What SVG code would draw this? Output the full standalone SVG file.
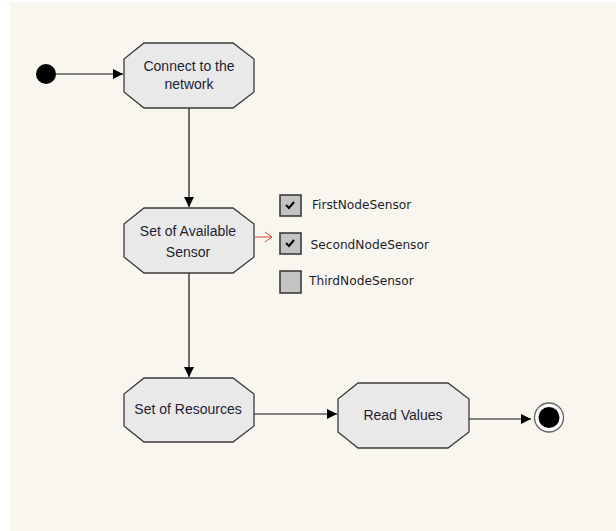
<svg xmlns="http://www.w3.org/2000/svg" width="616" height="531" viewBox="0 0 616 531">
<defs>
<style>
.bg{fill:#f9f6f0}
.node{fill:#e9e9e9;stroke:#3a3a3a;stroke-width:1.3}
.lbl{font-family:"Liberation Sans",Arial,sans-serif;font-size:14px;fill:#1e1e32;text-anchor:middle}
.chk{font-family:"DejaVu Sans",Tahoma,sans-serif;font-size:12.2px;fill:#1e1e28}
.edge{stroke:#111;stroke-width:1.2;fill:none}
.box{fill:#c3c3c3;stroke:#3c3c3c;stroke-width:1.6}
.tick{fill:none;stroke:#000;stroke-width:2}
</style>
<marker id="arr" markerWidth="11" markerHeight="10" refX="10" refY="5" orient="auto" markerUnits="userSpaceOnUse">
<path d="M0,0 L10,5 L0,10 Z" fill="#000"/>
</marker>
<marker id="open" markerWidth="9" markerHeight="12" refX="8" refY="6" orient="auto" markerUnits="userSpaceOnUse">
<path d="M1,1 L8,6 L1,11" fill="none" stroke="#e04040" stroke-width="1"/>
</marker>
</defs>
<rect width="616" height="531" fill="#ffffff"/>
<rect class="bg" x="10" y="2" width="606" height="529"/>

<g id="connectors">
<line class="edge" x1="56" y1="74" x2="123" y2="74" marker-end="url(#arr)"/>
<line class="edge" x1="189" y1="108" x2="189" y2="207" marker-end="url(#arr)"/>
<line class="edge" x1="189" y1="273" x2="189" y2="377" marker-end="url(#arr)"/>
<line class="edge" x1="254" y1="414" x2="337" y2="414" marker-end="url(#arr)"/>
<line class="edge" x1="469" y1="419" x2="531" y2="419" marker-end="url(#arr)"/>
<line x1="255" y1="237" x2="272" y2="237" stroke="#e04040" stroke-width="1" marker-end="url(#open)"/>
</g>

<g id="start">
<circle cx="46" cy="74" r="10" fill="#000"/>
</g>

<g id="n1">
<polygon class="node" points="144,43 233,43 254,59 254,92 233,108 144,108 124,92 124,59"/>
<text class="lbl" x="189" y="71">Connect to the</text>
<text class="lbl" x="189" y="89">network</text>
</g>

<g id="n2">
<polygon class="node" points="144,208 233,208 254,224 254,257 233,273 144,273 124,257 124,224"/>
<text class="lbl" x="188" y="236">Set of Available</text>
<text class="lbl" x="188" y="257">Sensor</text>
</g>

<g id="n3">
<polygon class="node" points="144,378 233,378 254,394 254,426 233,442 144,442 124,426 124,394"/>
<text class="lbl" x="188" y="414">Set of Resources</text>
</g>

<g id="n4">
<polygon class="node" points="358,383 448,383 469,399 469,432 448,448 358,448 338,432 338,399"/>
<text class="lbl" x="403" y="420">Read Values</text>
</g>

<g id="end">
<circle cx="549" cy="417.5" r="14.5" fill="#fbfbfb" stroke="#666" stroke-width="1.3"/>
<circle cx="549" cy="417.5" r="10.5" fill="#000"/>
</g>

<g id="sensors">
<g id="s1">
<rect class="box" x="280" y="195" width="21" height="21"/>
<path class="tick" d="M286,205 L289,208 L294,202"/>
<text class="chk" x="312" y="209">FirstNodeSensor</text>
</g>
<g id="s2">
<rect class="box" x="280" y="233" width="21" height="21"/>
<path class="tick" d="M286,243 L289,246 L294,240"/>
<text class="chk" x="310.5" y="249">SecondNodeSensor</text>
</g>
<g id="s3">
<rect class="box" x="280" y="271" width="21" height="22"/>
<text class="chk" x="309" y="285">ThirdNodeSensor</text>
</g>
</g>
</svg>
